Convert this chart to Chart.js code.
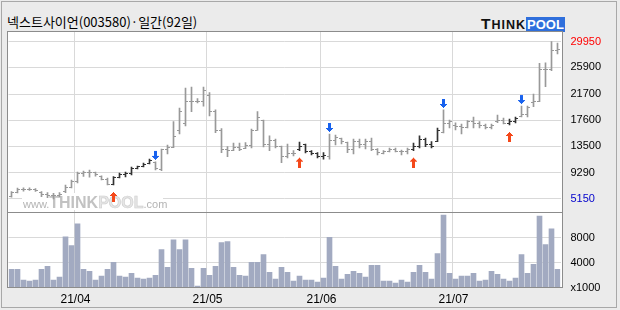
<!DOCTYPE html>
<html>
<head>
<meta charset="utf-8">
<script src="https://cdn.jsdelivr.net/npm/chart.js@4/dist/chart.umd.min.js"></script>
<style>
body { margin: 0; }
#wrap { position: relative; width: 620px; height: 310px; background: #ebebeb; overflow: hidden; }
#wrap canvas { position: absolute; left: 0; top: 0; }
.outer { position: absolute; left: 1px; top: 1px; width: 616px; height: 307px; border: 1px solid #a8a8a8; box-sizing: border-box; }
.title { position: absolute; left: 7px; top: 13px; font: 13px "Noto Sans CJK KR"; line-height: 18px; color: #000; white-space: nowrap; }
.logo { position: absolute; left: 481px; top: 14px; height: 15px; white-space: nowrap; font-family: "Liberation Sans"; font-weight: bold; }
.logo .think { display: inline-block; color: #111; font-size: 12.5px; letter-spacing: 1px; vertical-align: bottom; line-height: 14px; }
.logo .think b { font-size: 15.5px; }
.logo .pool { display: inline-block; background: #2f6fdc; color: #fff; font-size: 13px; line-height: 15px; padding: 0 1px; vertical-align: bottom; }
</style>
</head>
<body>
<div id="wrap">
  <div class="outer"></div>
  <div class="title">넥스트사이언(003580)·일간(92일)</div>
  <div class="logo"><span class="think"><b>T</b>HINK</span><span class="pool">POOL</span></div>
  <canvas id="volumeChart" width="620" height="310"></canvas>
  <canvas id="priceChart" width="620" height="310"></canvas>
</div>
<script>
const dates = [
    '21/03/17', '21/03/18', '21/03/19', '21/03/22', '21/03/23', '21/03/24', '21/03/25', '21/03/26', '21/03/29', '21/03/30', '21/03/31',
    '21/04/01', '21/04/02', '21/04/05', '21/04/06', '21/04/07', '21/04/08', '21/04/09', '21/04/12', '21/04/13', '21/04/14', '21/04/15',
    '21/04/16', '21/04/19', '21/04/20', '21/04/21', '21/04/22', '21/04/23', '21/04/26', '21/04/27', '21/04/28', '21/04/29', '21/04/30',
    '21/05/03', '21/05/04', '21/05/06', '21/05/07', '21/05/10', '21/05/11', '21/05/12', '21/05/13', '21/05/14', '21/05/17', '21/05/18',
    '21/05/20', '21/05/21', '21/05/24', '21/05/25', '21/05/26', '21/05/27', '21/05/28', '21/05/31',
    '21/06/01', '21/06/02', '21/06/03', '21/06/04', '21/06/07', '21/06/08', '21/06/09', '21/06/10', '21/06/11', '21/06/14', '21/06/15',
    '21/06/16', '21/06/17', '21/06/18', '21/06/21', '21/06/22', '21/06/23', '21/06/24', '21/06/25', '21/06/28', '21/06/29', '21/06/30',
    '21/07/01', '21/07/02', '21/07/05', '21/07/06', '21/07/07', '21/07/08', '21/07/09', '21/07/12', '21/07/13', '21/07/14', '21/07/15',
    '21/07/16', '21/07/19', '21/07/20', '21/07/21', '21/07/22', '21/07/23', '21/07/26'
];

const opens = [5600, 6150, 6650, 6700, 6650, 6200, 5800, 5700, 5750, 6300, 7000, 7900, 9200, 9300, 9250, 8700, 8300, 7500, 8500, 9000,
    9100, 10000, 10300, 10700, 10900, 9800, 12900, 13300, 16000, 17000, 20500, 20500, 20500, 21500, 19000, 16000, 13000, 12800, 13300, 13100,
    13600, 16000, 17500, 13700, 14300, 13400, 11800, 12300, 13000, 13700, 12700, 12300, 11800, 11900, 14400, 14700, 14100, 13000, 14200, 13800,
    14200, 12900, 12400, 12600, 12900, 12700, 12600, 12900, 13500, 14600, 13700, 14200, 15600, 17000, 16800, 16600, 16500, 17400, 17100, 16800,
    16500, 17300, 17600, 17100, 17400, 18100, 18400, 20300, 20600, 25600, 25500, 28600];
const highs = [6300, 6880, 6900, 6900, 6800, 6300, 6150, 6050, 6150, 7360, 8150, 9400, 9570, 9720, 9400, 8800, 8460, 8670, 9250, 9410,
    10200, 10350, 10830, 11460, 11000, 13040, 13670, 17340, 19500, 22650, 22800, 21000, 22800, 21910, 19190, 16240, 13400, 13980, 13980, 14030,
    16190, 18920, 17610, 15090, 14610, 13510, 13820, 12770, 14140, 13820, 12770, 12450, 12450, 15400, 15240, 14770, 14140, 14610, 14610, 14610,
    14770, 13080, 12770, 13190, 13190, 12880, 13190, 13980, 15090, 14770, 14190, 16350, 19190, 17610, 17140, 16980, 17500, 18080, 17340, 16980,
    16980, 18400, 17920, 17770, 18080, 19810, 19810, 21710, 26550, 26600, 29950, 29750];
const lows = [5420, 6100, 6400, 6500, 6350, 5520, 5360, 5150, 5420, 6150, 6880, 7670, 8700, 8600, 8750, 8150, 7360, 7360, 8460, 8620,
    8940, 9880, 10200, 10670, 9720, 9620, 12250, 13240, 15400, 16660, 18900, 20300, 19800, 18240, 15600, 12450, 11820, 12770, 12770, 13080,
    13190, 15950, 13350, 12770, 13190, 10880, 11620, 11930, 12770, 12400, 12090, 11620, 11410, 11410, 13670, 13830, 12450, 12250, 13190, 13040,
    12770, 12090, 12250, 12560, 12560, 12090, 12250, 12770, 13190, 13400, 13190, 14190, 15560, 16350, 16030, 15400, 16350, 16350, 16350, 16190,
    16190, 17180, 16980, 16820, 17140, 18080, 18080, 19700, 20500, 22860, 25380, 28020];
const closes = [6100, 6650, 6700, 6650, 6550, 5800, 5700, 5750, 5900, 7000, 7900, 9200, 9300, 9250, 9000, 8300, 7500, 8500, 9000, 9200,
    10000, 10200, 10600, 11200, 9900, 12900, 13200, 15000, 19000, 20500, 20500, 20500, 22200, 19000, 16000, 13000, 12800, 13300, 13000, 13600,
    16000, 18000, 13700, 14300, 13400, 11800, 12300, 12300, 13500, 12700, 12300, 11800, 12000, 14400, 14800, 14200, 13000, 14200, 13800, 14200,
    13000, 12500, 12600, 12900, 12700, 12600, 12900, 13500, 14600, 13700, 13500, 16000, 17000, 17300, 16600, 16500, 17400, 17100, 16800, 16500,
    16700, 17600, 17100, 17400, 17800, 18400, 19500, 20500, 25600, 25500, 28500, 28700];
// volume, in thousands of shares
const volumes = [2940, 2940, 1190, 1030, 1190, 2940, 3410, 1190, 1670, 8170, 6750, 10240, 2940, 2620, 1190, 1830, 2940, 4050, 1830, 1670,
    2300, 1510, 1350, 1510, 1980, 6110, 3250, 7690, 6110, 7690, 3090, 240, 3090, 1980, 3410, 7220, 7380, 3250, 1980, 1830,
    4050, 4050, 5320, 2460, 1350, 3250, 2460, 1030, 1830, 1190, 1190, 870, 1510, 8070, 3410, 1350, 2140, 2620, 2300, 1670,
    3570, 3570, 1030, 1030, 710, 1190, 870, 2460, 3570, 2460, 1350, 5480, 11670, 2300, 1350, 1830, 1830, 2300, 1030, 1190,
    2620, 2140, 1350, 1030, 1510, 5320, 2300, 3730, 11510, 6900, 9440, 2940];

const buySignals = [17, 48, 67, 83];
const sellSignals = [24, 53, 72, 85];

const priceTicks = [5150, 9290, 13500, 17600, 21700, 25900, 29950];
const volumeTicks = [0, 4000, 8000];

const GRID = '#d9d9d9';
const GRAY = '#999999';
const DARK = '#333333';
const FONT = { family: 'Liberation Sans', size: 11 };

const isDark = (i) => buySignals.some((b, k) => i >= b && i < sellSignals[k]);
const isMonthStart = (i) => i > 0 && i < dates.length && dates[i].slice(0, 5) !== dates[i - 1].slice(0, 5);

function makeIcon(w, h, color, rects) {
    const c = document.createElement('canvas');
    c.width = w;
    c.height = h;
    const g = c.getContext('2d');
    g.fillStyle = color;
    rects.forEach(r => g.fillRect(r[0], r[1], r[2], r[3]));
    return c;
}

const openGray = makeIcon(5, 1, GRAY, [[0, 0, 2, 1]]);
const openDark = makeIcon(5, 1, DARK, [[0, 0, 2, 1]]);
const closeGray = makeIcon(5, 1, GRAY, [[3, 0, 2, 1]]);
const closeDark = makeIcon(5, 1, DARK, [[3, 0, 2, 1]]);
// up arrow sits below the low, down arrow above the high
const upArrow = makeIcon(7, 34, '#f4481a', [[3, 24, 1, 1], [2, 25, 3, 1], [1, 26, 5, 1], [0, 27, 7, 1], [2, 28, 3, 6]]);
const downArrow = makeIcon(7, 26, '#1862ee', [[2, 2, 3, 5], [0, 7, 7, 1], [1, 8, 5, 1], [2, 9, 3, 1], [3, 10, 1, 1]]);

const panelFrame = {
    id: 'panelFrame',
    beforeDraw(chart) {
        const a = chart.chartArea;
        const ctx = chart.ctx;
        ctx.save();
        ctx.fillStyle = '#ffffff';
        ctx.fillRect(8, Math.floor(a.top), 554, Math.floor(a.bottom) - Math.floor(a.top) + 1);
        ctx.restore();
    },
    afterDraw(chart) {
        const a = chart.chartArea;
        const ctx = chart.ctx;
        const x0 = Math.floor(a.left) - 0.5, x1 = Math.ceil(a.right) + 1.5;
        const y0 = Math.floor(a.top) - 0.5, y1 = Math.floor(a.bottom) + 0.5;
        ctx.save();
        ctx.strokeStyle = '#8c8c8c';
        ctx.lineWidth = 1;
        ctx.strokeRect(x0, y0, x1 - x0, y1 - y0);
        ctx.restore();
    }
};

// site watermark: sits over the grid but under the bars
const watermark = {
    id: 'watermark',
    beforeDatasetsDraw(chart) {
        const ctx = chart.ctx;
        const parts = [
            ['www.', '11px "Liberation Sans"', '#b4b4b4', false],
            ['THINK', 'bold 16px "Liberation Sans"', '#c2c2c2', false],
            ['POOL', 'bold 16px "Liberation Sans"', '#e6e6e6', true],
            ['.com', '11px "Liberation Sans"', '#b4b4b4', false]
        ];
        ctx.save();
        ctx.fillStyle = '#ffffff';
        ctx.fillRect(22, 193, 141, 17);
        ctx.textBaseline = 'alphabetic';
        let x = 23;
        parts.forEach(p => {
            ctx.font = p[1];
            ctx.fillStyle = p[2];
            ctx.fillText(p[0], x, 207.5);
            if (p[3]) {
                ctx.strokeStyle = '#cdcdcd';
                ctx.lineWidth = 0.6;
                ctx.strokeText(p[0], x, 207.5);
            }
            x += ctx.measureText(p[0]).width;
        });
        ctx.restore();
    }
};

const xAxis = (height, showLabels) => ({
    grid: { color: ctx => isMonthStart(ctx.index) ? GRID : 'rgba(0,0,0,0)', drawTicks: false, offset: true },
    border: { display: false },
    ticks: {
        display: showLabels,
        autoSkip: false,
        maxRotation: 0,
        padding: 5,
        labelOffset: -2,
        color: '#000',
        font: { family: 'Liberation Sans', size: 12 },
        callback: (v, i) => isMonthStart(i) ? dates[i].slice(0, 5) : ''
    },
    afterFit: s => { s.height = height; s.paddingLeft = 0; s.paddingRight = 0; }
});

const yFit = s => { s.width = 59.5; s.paddingTop = 0; s.paddingBottom = 0; };

new Chart(document.getElementById('priceChart'), {
    data: {
        labels: dates,
        datasets: [{
            type: 'bar',
            data: lows.map((l, i) => [l, highs[i]]),
            backgroundColor: ctx => isDark(ctx.dataIndex) ? DARK : GRAY,
            barThickness: 1,
            borderWidth: 0
        }, {
            type: 'line',
            data: opens,
            showLine: false,
            pointRadius: 2,
            pointHoverRadius: 2,
            pointStyle: ctx => isDark(ctx.dataIndex) ? openDark : openGray
        }, {
            type: 'line',
            data: closes,
            showLine: false,
            pointRadius: 2,
            pointHoverRadius: 2,
            pointStyle: ctx => isDark(ctx.dataIndex) ? closeDark : closeGray
        }, {
            type: 'line',
            data: lows.map((l, i) => buySignals.includes(i) ? l : null),
            showLine: false,
            pointRadius: 2,
            pointStyle: upArrow
        }, {
            type: 'line',
            data: highs.map((h, i) => sellSignals.includes(i) ? h : null),
            showLine: false,
            pointRadius: 2,
            pointStyle: downArrow
        }]
    },
    options: {
        responsive: false,
        animation: false,
        events: [],
        layout: { padding: { left: 8.5, top: 32, right: 0, bottom: 98 } },
        plugins: { legend: { display: false }, tooltip: { enabled: false } },
        scales: {
            x: xAxis(0, false),
            y: {
                position: 'right',
                min: 3100,
                max: 31480,
                afterBuildTicks: s => { s.ticks = priceTicks.map(v => ({ value: v })); },
                grid: { color: GRID, drawTicks: false },
                border: { display: false },
                ticks: {
                    padding: 10,
                    font: FONT,
                    color: ctx => ctx.tick.value === Math.max(...highs) ? '#ff0000' : (ctx.tick.value === Math.min(...lows) ? '#0000cc' : '#000'),
                    callback: v => String(v)
                },
                afterFit: yFit
            }
        }
    },
    plugins: [panelFrame, watermark]
});

new Chart(document.getElementById('volumeChart'), {
    type: 'bar',
    data: {
        labels: dates,
        datasets: [{
            data: volumes,
            backgroundColor: '#a2aac1',
            barThickness: 5,
            borderWidth: 0
        }]
    },
    options: {
        responsive: false,
        animation: false,
        events: [],
        layout: { padding: { left: 8.5, top: 213, right: 0, bottom: 0 } },
        plugins: { legend: { display: false }, tooltip: { enabled: false } },
        scales: {
            x: xAxis(22.5, true),
            y: {
                position: 'right',
                min: 0,
                max: 12000,
                afterBuildTicks: s => { s.ticks = volumeTicks.map(v => ({ value: v })); },
                grid: { color: GRID, drawTicks: false },
                border: { display: false },
                ticks: {
                    padding: 10,
                    font: FONT,
                    color: '#000',
                    callback: v => v === 0 ? 'x1000' : String(v)
                },
                afterFit: yFit
            }
        }
    },
    plugins: [panelFrame]
});
</script>
</body>
</html>
